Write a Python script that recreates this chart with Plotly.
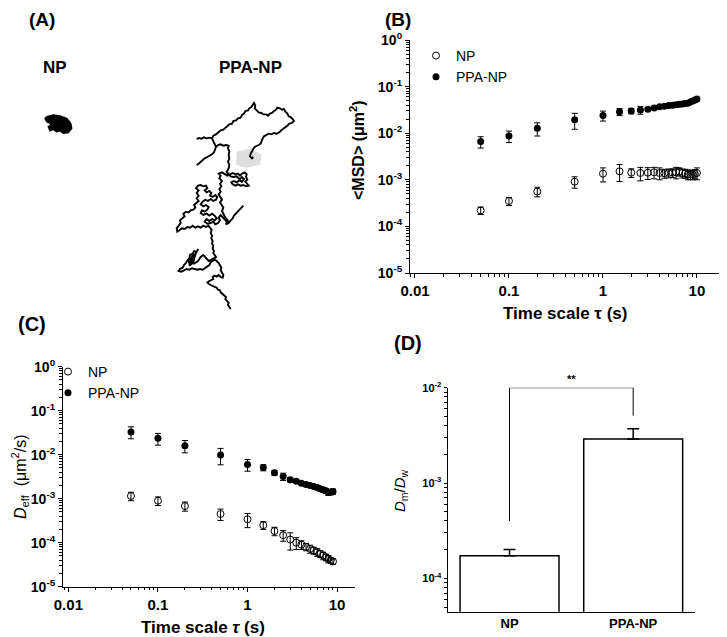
import plotly.graph_objects as go

W, H = 727, 637
OFF = 8  # the page body sits 8 px in from the window corner

# ---- panel B: <MSD> vs time scale
tau_msd = [0.05, 0.1, 0.2, 0.5, 1, 1.5, 2, 2.5, 3, 3.5, 4, 4.5, 5, 5.5, 6, 6.5, 7, 7.5, 8, 8.5, 9, 9.5, 10]
msd_np = [0.00022, 0.00035, 0.00056, 0.00091, 0.00135, 0.00152, 0.00142, 0.0014, 0.00142, 0.00145, 0.0014, 0.00138,
          0.0014, 0.00142, 0.00145, 0.0015, 0.0014, 0.00138, 0.0013, 0.00132, 0.0013, 0.00135, 0.0014]
msd_np_err = [0.00004, 0.00007, 0.00013, 0.00025, 0.00045, 0.0006, 0.0003, 0.00045, 0.0004, 0.0004, 0.0004, 0.0003,
              0.0003, 0.0003, 0.0004, 0.0003, 0.0003, 0.0003, 0.0003, 0.0003, 0.0003, 0.0003, 0.0004]
msd_ppa = [0.0066, 0.0087, 0.0127, 0.0194, 0.024, 0.0289, 0.030, 0.0315, 0.0326, 0.0347, 0.037, 0.0378, 0.0393,
           0.040, 0.0409, 0.0418, 0.0423, 0.0433, 0.044, 0.0465, 0.049, 0.0515, 0.054]
msd_ppa_err = [0.0018, 0.0024, 0.004, 0.0073, 0.0058, 0.005, 0.004, 0.006, 0.002, 0.002, 0.002, 0.003, 0.003,
               0.003, 0.003, 0.003, 0.003, 0.003, 0.003, 0.003, 0.004, 0.004, 0.004]

# ---- panel C: D_eff vs time scale
tau_deff = [0.05, 0.1, 0.2, 0.5, 1, 1.5, 2, 2.5, 3, 3.5, 4, 4.5, 5, 5.5, 6, 6.5, 7, 7.5, 8, 8.5, 9]
deff_np = [0.00115, 0.0009, 0.00068, 0.00045, 0.00034, 0.00025, 0.000184, 0.000148, 0.000118, 0.0001, 0.0000905,
           0.0000807, 0.0000726, 0.0000667, 0.0000609, 0.0000558, 0.000051, 0.0000467, 0.0000428, 0.0000396, 0.0000375]
deff_np_err = [0.00025, 0.0002, 0.00016, 0.00013, 0.00012, 0.00005, 0.00004, 0.00004, 0.00005, 0.00003, 0.00002,
               0.000015, 0.000015, 0.000012, 0.000012, 0.00001, 0.00001, 0.000008, 0.000008, 0.000006, 0.000005]
deff_ppa = [0.033, 0.0235, 0.016, 0.0099, 0.006, 0.0051, 0.0039, 0.0032, 0.0027, 0.0025, 0.00224, 0.0021, 0.002,
            0.0019, 0.0018, 0.00168, 0.0016, 0.00151, 0.00138, 0.00142, 0.00146]
deff_ppa_err = [0.01, 0.007, 0.005, 0.004, 0.0018, 0.0008, 0.0005, 0.0006, 0.0003, 0.0002, 0.0002, 0.0002, 0.0002,
                0.0002, 0.0002, 0.0002, 0.0002, 0.0002, 0.0002, 0.0002, 0.0002]

# ---- panel D: Dm/Dw
groups = ["NP", "PPA-NP"]
ratio = [1.73e-4, 2.9e-3]
ratio_err = [0.28e-4, 0.8e-3]
bracket_y = [4e-4, 1e-2, 1e-2, 5.1e-3]

# ---- panel A: traced trajectory pieces (image units, y grows downward)
track_parts = [
    [  # tail at the bottom, lower-left loop, trunk and the left cluster
        (182, 642), (178, 634), (174, 630), (176, 624), (170, 618), (166, 612), (168, 606), (162, 600), (158, 596),
        (152, 592), (150, 586), (144, 584), (140, 578), (134, 576), (128, 572), (122, 570), (116, 566), (112, 562),
        (118, 558), (124, 556), (130, 552), (128, 546), (134, 542), (140, 545), (146, 540), (152, 546), (158, 548),
        (160, 540), (156, 532), (152, 526), (154, 518), (150, 510), (146, 504), (140, 498), (136, 494), (128, 498),
        (122, 502), (118, 510), (112, 514), (106, 520), (98, 524), (90, 522), (82, 524), (74, 522), (66, 520),
        (58, 524), (50, 522), (42, 526), (34, 530), (26, 528), (30, 522), (38, 518), (42, 510), (48, 504), (52, 496),
        (58, 490), (60, 480), (68, 476), (72, 468), (80, 470), (85, 462), (82, 466), (76, 478), (66, 484), (58, 512),
        (66, 506), (72, 496), (64, 490), (56, 500), (60, 508), (70, 500), (78, 472), (74, 480), (70, 490), (62, 500),
        (72, 506), (84, 498), (92, 486), (100, 480), (108, 490), (116, 498), (124, 494),
        (138, 486), (134, 480), (130, 474), (132, 468), (128, 460), (130, 452), (126, 446), (128, 438), (124, 430),
        (126, 422), (122, 414), (125, 404), (120, 396),
        (115, 392), (108, 396), (100, 392), (92, 398), (84, 394), (76, 398), (68, 392), (60, 398), (52, 396),
        (44, 402), (36, 400), (28, 406), (22, 410), (20, 400), (26, 392), (32, 384), (30, 376), (38, 370), (44, 364),
        (40, 356), (48, 350), (56, 352), (62, 346), (70, 344), (76, 338), (72, 330), (80, 324), (86, 318), (80, 310),
        (86, 302), (80, 294), (86, 286), (78, 280), (84, 272), (92, 270), (100, 274), (108, 272), (112, 280),
        (104, 286), (110, 292), (118, 288), (124, 294), (120, 302), (128, 306), (136, 300), (142, 306), (138, 314),
        (130, 318), (122, 312), (114, 318), (106, 314), (98, 320), (92, 328), (100, 334), (108, 330), (116, 336),
        (112, 344), (104, 350), (96, 346), (92, 354), (100, 360), (110, 356), (118, 362), (126, 356), (134, 362),
        (140, 370), (134, 376), (126, 372), (118, 378), (110, 372), (104, 380), (112, 386), (122, 384), (130, 380),
        (136, 388), (144, 384), (150, 376), (146, 368), (152, 360), (158, 366), (164, 374), (170, 380), (168, 388),
        (176, 384), (182, 376), (188, 370), (192, 362), (198, 356), (204, 350), (210, 344), (216, 338), (220, 332),
    ],
    [  # from the cluster up to the small right-hand knot and the trunk
        (176, 384), (172, 374), (166, 368), (160, 358), (156, 348), (160, 338), (154, 330), (150, 322), (156, 314),
        (150, 306), (146, 298), (152, 290), (148, 282), (154, 274), (150, 266), (156, 258), (148, 250), (152, 242),
        (146, 236), (156, 232), (164, 236), (172, 242), (180, 238), (188, 234), (196, 238), (204, 236), (210, 242),
        (216, 236), (224, 232), (230, 238), (228, 246), (232, 254), (226, 260), (232, 266), (236, 272), (228, 274),
        (220, 270), (212, 272), (204, 268), (196, 272), (188, 268), (184, 262), (192, 258), (200, 262), (208, 256),
        (216, 260), (222, 252), (216, 246), (210, 252), (204, 248), (200, 244), (190, 246), (182, 244), (176, 238),
        (170, 230), (176, 220), (178, 210), (174, 200), (178, 190), (176, 180), (178, 170), (174, 160), (176, 152),
        (168, 150), (160, 152), (152, 148), (144, 150), (138, 156), (134, 164), (132, 172), (126, 178), (120, 182),
        (112, 186), (104, 190), (98, 196), (92, 200), (86, 206), (80, 210),
    ],
    [  # short arm at the upper left
        (138, 156), (134, 146), (130, 136), (126, 130), (118, 128), (110, 130), (102, 127), (94, 131), (86, 129),
        (80, 132),
    ],
    [  # long arm at the top and its return
        (126, 130), (130, 122), (138, 118), (146, 112), (152, 106), (160, 104), (166, 98), (172, 94), (178, 88),
        (186, 86), (190, 78), (198, 76), (204, 70), (212, 68), (216, 60), (222, 56), (226, 48), (234, 46), (238, 40),
        (244, 36), (248, 28), (252, 24), (256, 32), (254, 40), (260, 46), (266, 52), (274, 54), (280, 58), (288, 58),
        (294, 62), (300, 56), (306, 54), (312, 48), (318, 44), (322, 38), (330, 40), (336, 44), (342, 42), (346, 50),
        (352, 56), (356, 64), (362, 66), (368, 72), (372, 78), (366, 84), (358, 86), (352, 92), (346, 96),
        (340, 102), (334, 106), (328, 112), (320, 116), (312, 114), (304, 118), (296, 116), (288, 120), (282, 124),
        (278, 130), (276, 138), (272, 146), (266, 150), (260, 152), (254, 156), (250, 162), (246, 168), (242, 176),
        (240, 184), (246, 190), (250, 186),
    ],
]
track_x, track_y = [], []
for part in track_parts:
    track_x += [p[0] for p in part] + [None]
    track_y += [p[1] for p in part] + [None]

blob_x = [-370, -350, -330, -310, -298, -295, -305, -320, -330, -340, -350, -360, -365, -355, -370, -375, -370]
blob_y = [65, 60, 63, 70, 85, 100, 113, 115, 107, 110, 103, 107, 95, 87, 80, 70, 65]
smudge_x = [200, 245, 275, 270, 230, 198, 200]
smudge_y = [170, 160, 180, 210, 218, 210, 170]


# layout helpers: positions are given in reference-image pixels
def px_x(x):
    return (x - OFF) / W


def px_y(y):
    return 1 - (y - OFF) / H


def dom_x(a, b):
    return [px_x(a), px_x(b)]


def dom_y(top, bottom):
    return [px_y(bottom), px_y(top)]


def sup(p):
    return "<b>10<sup>%d</sup></b>" % p


fig = go.Figure()

# panel A
fig.add_trace(go.Scatter(x=smudge_x, y=smudge_y, fill="toself", mode="none", fillcolor="#dedede",
                         showlegend=False, xaxis="x", yaxis="y"))
fig.add_trace(go.Scatter(x=track_x, y=track_y, mode="lines", connectgaps=False,
                         line=dict(color="black", width=1.9), showlegend=False, xaxis="x", yaxis="y"))
fig.add_trace(go.Scatter(x=blob_x, y=blob_y, fill="toself", mode="lines", fillcolor="black",
                         line=dict(color="black", width=1.5), showlegend=False, xaxis="x", yaxis="y"))

marker_np = dict(symbol="circle-open", color="black", size=7, line=dict(width=1))
marker_ppa = dict(symbol="circle", color="black", size=7)


def err(a):
    return dict(type="data", array=a, color="black", thickness=1, width=3)


# panel B
fig.add_trace(go.Scatter(x=tau_msd, y=msd_np, error_y=err(msd_np_err), mode="markers", marker=marker_np,
                         name="NP", xaxis="x2", yaxis="y2", legend="legend"))
fig.add_trace(go.Scatter(x=tau_msd, y=msd_ppa, error_y=err(msd_ppa_err), mode="markers", marker=marker_ppa,
                         name="PPA-NP", xaxis="x2", yaxis="y2", legend="legend"))

# panel C
fig.add_trace(go.Scatter(x=tau_deff, y=deff_np, error_y=err(deff_np_err), mode="markers", marker=marker_np,
                         name="NP", xaxis="x3", yaxis="y3", legend="legend2"))
fig.add_trace(go.Scatter(x=tau_deff, y=deff_ppa, error_y=err(deff_ppa_err), mode="markers", marker=marker_ppa,
                         name="PPA-NP", xaxis="x3", yaxis="y3", legend="legend2"))

# panel D
fig.add_trace(go.Bar(x=groups, y=ratio, width=0.8, marker=dict(color="white", line=dict(color="black", width=1.5)),
                     error_y=dict(type="data", symmetric=False, array=ratio_err, arrayminus=[0, 0],
                                  color="black", thickness=1.5, width=6),
                     showlegend=False, xaxis="x4", yaxis="y4"))
fig.add_trace(go.Scatter(x=[groups[0], groups[0], groups[1], groups[1]], y=bracket_y, mode="lines",
                         line=dict(color="black", width=1), cliponaxis=False, showlegend=False,
                         xaxis="x4", yaxis="y4"))

font = "Liberation Sans, Arial, sans-serif"
tau_ticks = [0.01, 0.1, 1, 10]
tau_text = ["<b>0.01</b>", "<b>0.1</b>", "<b>1</b>", "<b>10</b>"]
minor = dict(ticks="outside", ticklen=2.5, tickcolor="black", dtick="D1", showgrid=False)
log_common = dict(type="log", showline=True, linecolor="black", linewidth=1.2, ticks="outside",
                  tickcolor="black", showgrid=False, zeroline=False, minor=minor)
decades = [10.0 ** p for p in range(-5, 1)]

fig.update_layout(
    width=W, height=H, margin=dict(l=0, r=0, t=0, b=0, autoexpand=False),
    paper_bgcolor="white", plot_bgcolor="white",
    font=dict(family=font, color="black"),
    xaxis=dict(domain=dom_x(8, 360), range=[-486, 570], visible=False, anchor="y"),
    yaxis=dict(domain=dom_y(8, 310), range=[645, -261], visible=False, anchor="x"),
    xaxis2=dict(domain=dom_x(410, 723), range=[-2.053, 1.277], anchor="y2", tickvals=tau_ticks,
                ticktext=tau_text, tickfont=dict(size=15), ticklen=4, **log_common),
    yaxis2=dict(domain=dom_y(40, 273), range=[-5, 0], anchor="x2", tickvals=decades,
                ticktext=[sup(p) for p in range(-5, 1)], tickfont=dict(size=14), ticklen=4, **log_common),
    xaxis3=dict(domain=dom_x(63, 355), range=[-2.06, 1.2], anchor="y3", tickvals=tau_ticks,
                ticktext=tau_text, tickfont=dict(size=15), ticklen=4, **log_common),
    yaxis3=dict(domain=dom_y(366.7, 586.7), range=[-5, 0], anchor="x3", tickvals=decades,
                ticktext=[sup(p) for p in range(-5, 1)], tickfont=dict(size=14), ticklen=4, **log_common),
    xaxis4=dict(domain=dom_x(447.7, 695), range=[-0.5, 1.5], anchor="y4", showline=True, linecolor="black",
                linewidth=1.2, ticks="", tickfont=dict(size=13), tickvals=groups,
                ticktext=["<b>NP</b>", "<b>PPA-NP</b>"], showgrid=False),
    yaxis4=dict(domain=dom_y(387.7, 611.7), range=[-4.35, -2], anchor="x4", tickvals=[1e-4, 1e-3, 1e-2],
                ticktext=[sup(-4), sup(-3), sup(-2)], tickfont=dict(size=11), ticklen=3, **log_common),
    legend=dict(x=px_x(416), y=px_y(40), xanchor="left", yanchor="top", bgcolor="rgba(0,0,0,0)",
                font=dict(size=14, family=font), tracegroupgap=0, itemwidth=30),
    legend2=dict(x=px_x(48), y=px_y(356), xanchor="left", yanchor="top", bgcolor="rgba(0,0,0,0)",
                 font=dict(size=14, family=font), tracegroupgap=0, itemwidth=30),
)

labels = [
    ("<b>(A)</b>", 42, 19, 19, 0),
    ("<b>(B)</b>", 398, 19, 19, 0),
    ("<b>(C)</b>", 32, 324, 20, 0),
    ("<b>(D)</b>", 408, 343, 20, 0),
    ("<b>NP</b>", 55, 68, 17, 0),
    ("<b>PPA-NP</b>", 250, 68, 17, 0),
    ("<b>Time scale τ (s)</b>", 565, 313, 17, 0),
    ("<b>Time scale <i>τ</i> (s)</b>", 203, 627, 17, 0),
    ("<b>&lt;MSD&gt; (μm<sup>2</sup>)</b>", 357, 150, 16, -90),
    ("<i>D</i><sub>eff</sub>  (μm<sup>2</sup>/s)", 20, 477, 16, -90),
    ("<i>D</i><sub>m</sub>/<i>D</i><sub>w</sub>", 400, 491, 15, -90),
]
for text, px, py, size, ang in labels:
    fig.add_annotation(text=text, x=px_x(px), y=px_y(py), xref="paper", yref="paper", showarrow=False,
                       xanchor="center", yanchor="middle", textangle=ang,
                       font=dict(size=size, family=font, color="black"))

fig.add_annotation(text="<b>**</b>", x=0.5, y=-2, xref="x4", yref="y4", showarrow=False, yanchor="bottom",
                   yshift=1, font=dict(size=11, family=font))

fig.write_html("out.html")
